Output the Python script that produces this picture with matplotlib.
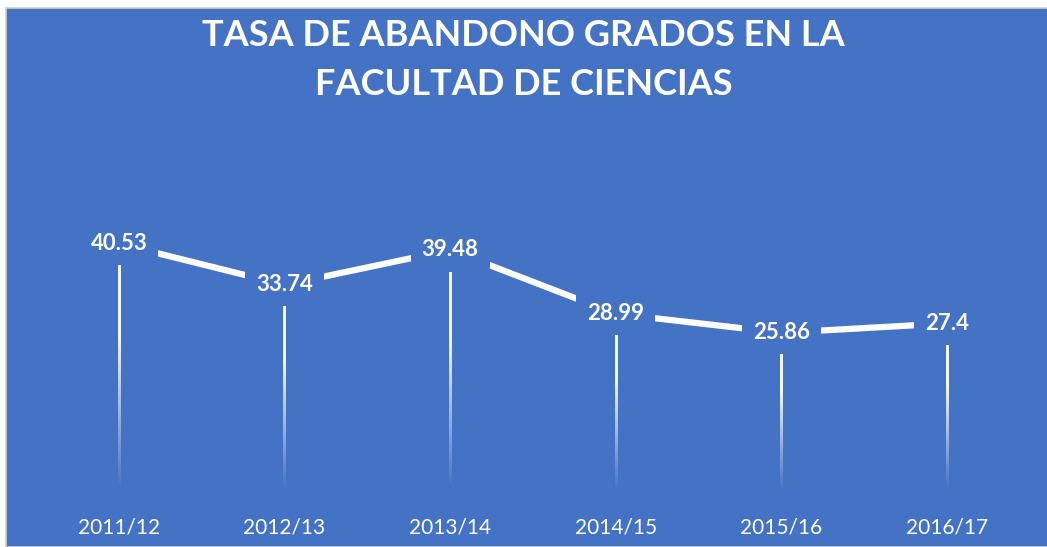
import matplotlib.pyplot as plt
import numpy as np
from matplotlib.patches import Rectangle

# chart data
cursos = ['2011/12', '2012/13', '2013/14', '2014/15', '2015/16', '2016/17']
tasa = [40.53, 33.74, 39.48, 28.99, 25.86, 27.4]
etiquetas = ['40.53', '33.74', '39.48', '28.99', '25.86', '27.4']
titulo = 'TASA DE ABANDONO GRADOS EN LA\nFACULTAD DE CIENCIAS'

azul = '#4472C4'
plt.rcParams['font.family'] = ['Lato', 'DejaVu Sans']

W, H = 1047, 547
fig = plt.figure(figsize=(W / 100, H / 100), dpi=100, facecolor='white')
fig.patches.append(Rectangle((6 / W, 0), 1, 1 - 8 / H, transform=fig.transFigure,
                             facecolor=azul, edgecolor='#d0d0d0', linewidth=1.2, zorder=0))

ax = fig.add_axes([36 / W, 57 / H, 994 / W, 304 / H])
ax.set_zorder(2)
ax.set_facecolor('none')
x = np.arange(len(cursos))

# drop lines, white fading to transparent towards the axis
grad = np.zeros((200, 1, 4))
grad[..., :3] = 1.0
t = np.linspace(0, 1, 200)  # 0 = bottom, 1 = top
grad[:, 0, 3] = np.clip(t * 1.6, 0, 1) * 0.95
half = 0.008
for xi, v in zip(x, tasa):
    ax.imshow(grad, extent=[xi - half, xi + half, 0, v], origin='lower',
              aspect='auto', interpolation='bilinear', zorder=1)

ax.plot(x, tasa, color='white', linewidth=4.5, solid_capstyle='butt', zorder=2)

for xi, v, lab in zip(x, tasa, etiquetas):
    ax.text(xi, v, lab, ha='center', va='center', color='white', fontsize=16,
            fontweight='bold', zorder=3,
            bbox=dict(boxstyle='square,pad=0.5', facecolor=azul, edgecolor='none'))

ax.set_xlim(-0.5, len(cursos) - 0.5)
ax.set_ylim(0, 50)
ax.set_xticks(x)
ax.set_xticklabels(cursos, color='white', fontsize=15)
ax.tick_params(axis='x', length=0, pad=20)
ax.set_yticks([])
for s in ax.spines.values():
    s.set_visible(False)

fig.text(0.5, 1 - 60 / H, titulo, ha='center', va='center', color='white',
         fontsize=26, fontweight='bold', linespacing=1.57, zorder=3)

fig.savefig('out.png', dpi=100, facecolor=fig.get_facecolor())
